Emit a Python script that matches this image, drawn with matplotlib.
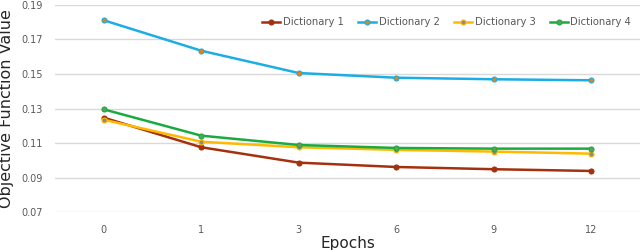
import matplotlib
matplotlib.use("Agg")
import matplotlib.pyplot as plt

epochs = ["0", "1", "3", "6", "9", "12"]
dict1 = [0.1247, 0.1076, 0.0987, 0.0962, 0.0949, 0.0939]
dict2 = [0.1810, 0.1634, 0.1505, 0.1478, 0.1469, 0.1463]
dict3 = [0.1235, 0.1108, 0.1076, 0.1061, 0.1051, 0.1039]
dict4 = [0.1295, 0.1143, 0.1089, 0.1072, 0.1068, 0.1068]
names = ["Dictionary 1", "Dictionary 2", "Dictionary 3", "Dictionary 4"]
yticks = [0.07, 0.09, 0.11, 0.13, 0.15, 0.17, 0.19]

plt.rcParams['font.family'] = ['DejaVu Sans']

fig = plt.figure(figsize=(6.4, 2.5), dpi=100)
ax = fig.add_axes([55/640, 1 - 212.3/250, 1 - 55/640, (212.3 - 4.7)/250])

x = list(range(len(epochs)))
styles = [
    (dict1, "#A5300F", "#A5300F", "#A5300F"),
    (dict2, "#1CADE4", "#E48312", "#1CADE4"),
    (dict3, "#FFB900", "#8C8C8C", "#FFB900"),
    (dict4, "#1AAB40", "#5E9E5E", "#1AAB40"),
]
for (vals, lc, mf, me), name in zip(styles, names):
    ax.plot(x, vals, color=lc, lw=1.8, marker="o", markersize=3.6,
            markerfacecolor=mf, markeredgecolor=me, markeredgewidth=0.8,
            label=name, zorder=3)

ax.set_xlim(-0.5, len(epochs) - 0.5)
ax.set_ylim(0.07, 0.19)
ax.set_xticks(x)
ax.set_xticklabels(epochs)
ax.set_yticks(yticks)
ax.set_yticklabels([f"{v:.2f}" for v in yticks])
ax.tick_params(length=0, labelsize=7, labelcolor="#595959", pad=9)
ax.tick_params(axis='x', pad=9)
ax.grid(axis='y', color="#D9D9D9", lw=1)
ax.set_axisbelow(True)
for s in ax.spines.values():
    s.set_visible(False)

ax.set_xlabel("Epochs", fontsize=11, color="#262626", labelpad=1)
ax.set_ylabel("Objective Function Value", fontsize=11.5, color="#262626", labelpad=5)

leg = fig.legend(loc="center left", bbox_to_anchor=(262/640, 1 - 22/250), ncol=4,
                 frameon=False, fontsize=7.2, handlelength=1.8, handletextpad=0.3,
                 columnspacing=1.4, labelcolor="#595959", borderaxespad=0, borderpad=0)

fig.savefig("out.png", dpi=100)
